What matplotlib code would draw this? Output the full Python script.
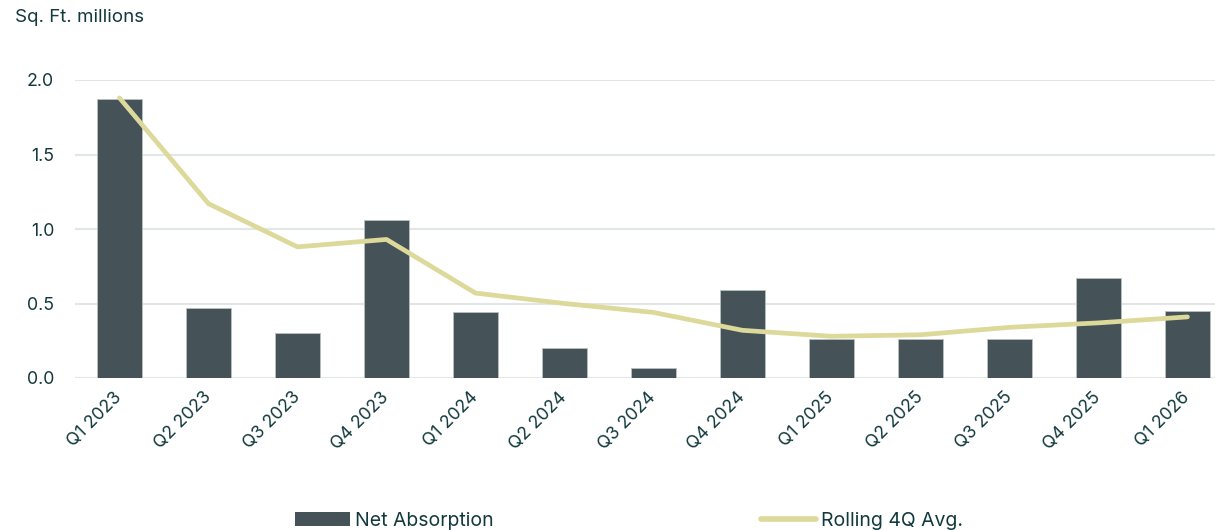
import numpy as np
import matplotlib
matplotlib.use("Agg")
import matplotlib.pyplot as plt
from matplotlib.lines import Line2D
from matplotlib.patches import Patch

# Net absorption by quarter, million sq. ft.
quarters = ["Q1 2023", "Q2 2023", "Q3 2023", "Q4 2023",
            "Q1 2024", "Q2 2024", "Q3 2024", "Q4 2024",
            "Q1 2025", "Q2 2025", "Q3 2025", "Q4 2025", "Q1 2026"]
net_absorption = [1.87, 0.47, 0.30, 1.06, 0.44, 0.20, 0.07, 0.59,
                  0.26, 0.26, 0.26, 0.67, 0.45]
rolling_avg = [1.88, 1.17, 0.88, 0.93, 0.57, 0.50, 0.44, 0.32,
               0.28, 0.29, 0.34, 0.37, 0.41]
y_ticks = [0.0, 0.5, 1.0, 1.5, 2.0]

text_col = "#12393d"
bar_col = "#455257"
line_col = "#dcd99a"
grid_col = "#e1e6e6"

plt.rcParams["font.family"] = ["Inter", "DejaVu Sans"]

fig = plt.figure(figsize=(12.15, 5.30), dpi=100)
ax = fig.add_axes([75 / 1215, 152 / 530, 1140 / 1215, 298 / 530])

x = np.arange(len(quarters))
ax.bar(x, net_absorption, width=0.5, color=bar_col, edgecolor="#b8c0c0",
       linewidth=0.6, zorder=2)
ax.plot(x, rolling_avg, color=line_col, linewidth=3.4,
        solid_capstyle="round", solid_joinstyle="round", zorder=3)

ax.set_xlim(-0.5, 12.31)
ax.set_ylim(0, 2.0)
ax.set_yticks(y_ticks)
ax.set_yticklabels([f"{v:.1f}" for v in y_ticks])
ax.set_xticks(x)
ax.set_xticklabels(quarters, rotation=45, ha="right", va="center",
                   rotation_mode="anchor")
ax.tick_params(axis="both", length=0, labelsize=12.8, colors=text_col)
ax.tick_params(axis="y", pad=15)
ax.tick_params(axis="x", pad=12)

for s in ax.spines.values():
    s.set_visible(False)
ax.grid(axis="y", color=grid_col, linewidth=1.5, zorder=0)
ax.set_axisbelow(True)

fig.text(15 / 1215, 1 - 18 / 530, "Sq. Ft. millions", fontsize=13.5,
         color=text_col, va="center", ha="left")

handles = [Patch(facecolor=bar_col, label="Net Absorption"),
           Line2D([0], [0], color=line_col, linewidth=4,
                  solid_capstyle="round", label="Rolling 4Q Avg.")]
fig.legend(handles=handles, loc="center", bbox_to_anchor=(629 / 1215, 1 - 521 / 530),
           ncol=2, frameon=False, fontsize=14, labelcolor=text_col,
           columnspacing=13.8, handlelength=2.8, handletextpad=0.25,
           handleheight=0.7)

fig.savefig("out.png", dpi=100)
